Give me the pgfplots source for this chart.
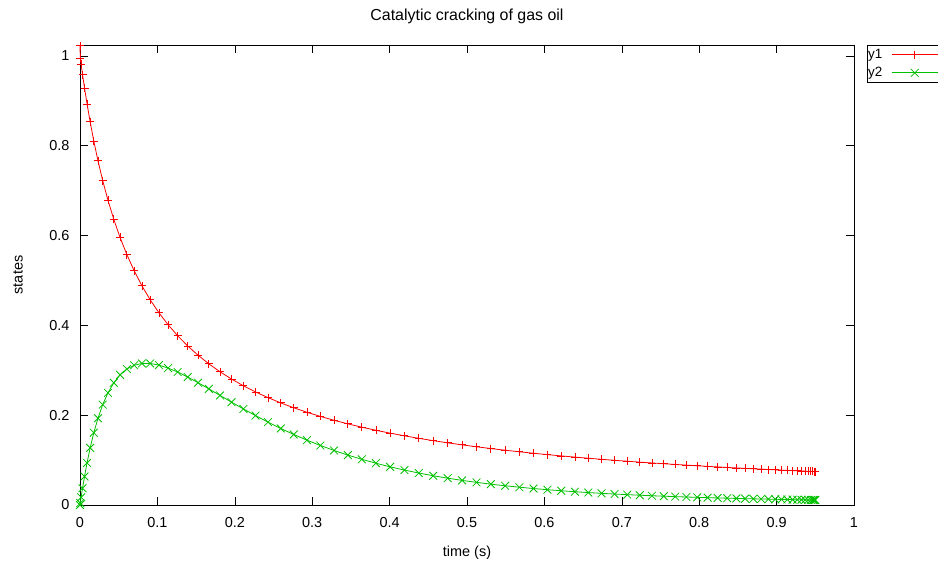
\documentclass[border=0pt]{standalone}
\usepackage{fontspec}
\setmainfont{Liberation Sans}
\usepackage{pgfplots}
\pgfplotsset{compat=1.18}
\usepackage{pgfplotstable}
\definecolor{gpred}{RGB}{255,0,0}
\definecolor{gpgreen}{RGB}{0,192,0}

\pgfplotstableread{
t y1 y2
0 1.023 0.0
0.000366 0.99523 0.00437
0.001464 0.98118 0.01713
0.003293 0.95865 0.03733
0.005848 0.92884 0.06344
0.009127 0.89320 0.09358
0.013124 0.85330 0.12727
0.017834 0.81062 0.16100
0.023248 0.76655 0.19333
0.029359 0.72223 0.22351
0.036157 0.67858 0.24981
0.043632 0.63630 0.27209
0.051772 0.59587 0.28983
0.060564 0.55761 0.30286
0.069996 0.52166 0.31124
0.080052 0.48812 0.31523
0.090717 0.45696 0.31524
0.101974 0.42811 0.31157
0.113807 0.40147 0.30494
0.126197 0.37690 0.29622
0.139124 0.35429 0.28499
0.152570 0.33348 0.27243
0.166512 0.31434 0.25856
0.180930 0.29672 0.24401
0.195802 0.28050 0.22905
0.211104 0.26557 0.21397
0.226813 0.25181 0.19908
0.242905 0.23912 0.18452
0.259355 0.22740 0.17048
0.276137 0.21657 0.15707
0.293226 0.20656 0.14438
0.310594 0.19729 0.13256
0.328217 0.18869 0.12150
0.346066 0.18072 0.11117
0.364114 0.17331 0.10175
0.382332 0.16643 0.09303
0.400694 0.16002 0.08499
0.419170 0.15406 0.07778
0.437732 0.14849 0.07114
0.456352 0.14330 0.06514
0.475 0.13846 0.05974
0.493648 0.13393 0.05480
0.512268 0.12969 0.05040
0.530830 0.12573 0.04642
0.549306 0.12201 0.04280
0.567668 0.11853 0.03960
0.585886 0.11527 0.03669
0.603934 0.11221 0.03406
0.621783 0.10934 0.03173
0.639406 0.10665 0.02960
0.656774 0.10413 0.02769
0.673863 0.10176 0.02598
0.690645 0.09953 0.02443
0.707095 0.09744 0.02303
0.723187 0.09548 0.02178
0.738896 0.09364 0.02063
0.754198 0.09191 0.01960
0.769070 0.09030 0.01867
0.783488 0.08878 0.01782
0.797430 0.08736 0.01705
0.810876 0.08604 0.01636
0.823803 0.08480 0.01574
0.836193 0.08365 0.01516
0.848026 0.08258 0.01464
0.859283 0.08159 0.01418
0.869948 0.08067 0.01376
0.880004 0.07982 0.01338
0.889436 0.07904 0.01303
0.898228 0.07833 0.01272
0.906368 0.07768 0.01244
0.913843 0.07709 0.01220
0.920641 0.07657 0.01198
0.926752 0.07610 0.01179
0.932166 0.07569 0.01162
0.936876 0.07534 0.01148
0.940873 0.07504 0.01137
0.944152 0.07480 0.01127
0.946707 0.07462 0.01120
0.948536 0.07448 0.01115
0.949634 0.07440 0.01112
0.95 0.07438 0.01111
}\data

\begin{document}
\begin{tikzpicture}
\useasboundingbox (0,0) rectangle (938bp,563bp);
\begin{axis}[
  at={(80bp,58bp)}, anchor=south west,
  scale only axis, width=774bp, height=460bp,
  xmin=0, xmax=1, ymin=0, ymax=1.0245,
  xtick={0,0.1,0.2,0.3,0.4,0.5,0.6,0.7,0.8,0.9,1},
  ytick={0,0.2,0.4,0.6,0.8,1},
  tick align=inside, major tick length=8bp,
  axis line style={black, line width=0.8bp},
  tick style={black, line width=0.6bp},
  font=\fontsize{14.5}{17}\selectfont,
  /pgf/number format/assume math mode=true,
  yticklabel style={xshift=-7bp},
  xticklabel style={yshift=-9bp},
  clip=false,
  title={Catalytic cracking of gas oil},
  title style={at={(axis description cs:0.5,1.050)}, anchor=center, font=\fontsize{16}{19}\selectfont},
  xlabel={time (s)},
  xlabel style={at={(axis description cs:0.5,-0.1043)}, anchor=center},
  ylabel={states},
  ylabel style={at={(axis description cs:-0.0801,0.5)}, anchor=center},
  legend plot pos=right,
  legend cell align=left,
  legend image code/.code={\draw[mark repeat=2,mark phase=2] plot coordinates {(0bp,0bp) (23bp,0bp) (46bp,0bp)};},
  legend style={at={(1,1)}, anchor=north west, xshift=12.7bp, draw=black, line width=0.8bp,
    fill=white, inner xsep=0bp, inner ysep=0.5bp, column sep=8bp,
    nodes={text height=9.5bp, text depth=2.5bp, inner sep=3bp, inner xsep=1bp},
    font=\fontsize{13.5}{16}\selectfont},
]
\addplot[color=gpred, line width=0.8bp, mark=+, mark size=4bp, mark options={solid}] table[x=t,y=y1]{\data};
\addlegendentry{y1}
\addplot[color=gpgreen, line width=0.8bp, mark=x, mark size=5.5bp, mark options={solid}] table[x=t,y=y2]{\data};
\addlegendentry{y2}
\end{axis}
\end{tikzpicture}
\end{document}
